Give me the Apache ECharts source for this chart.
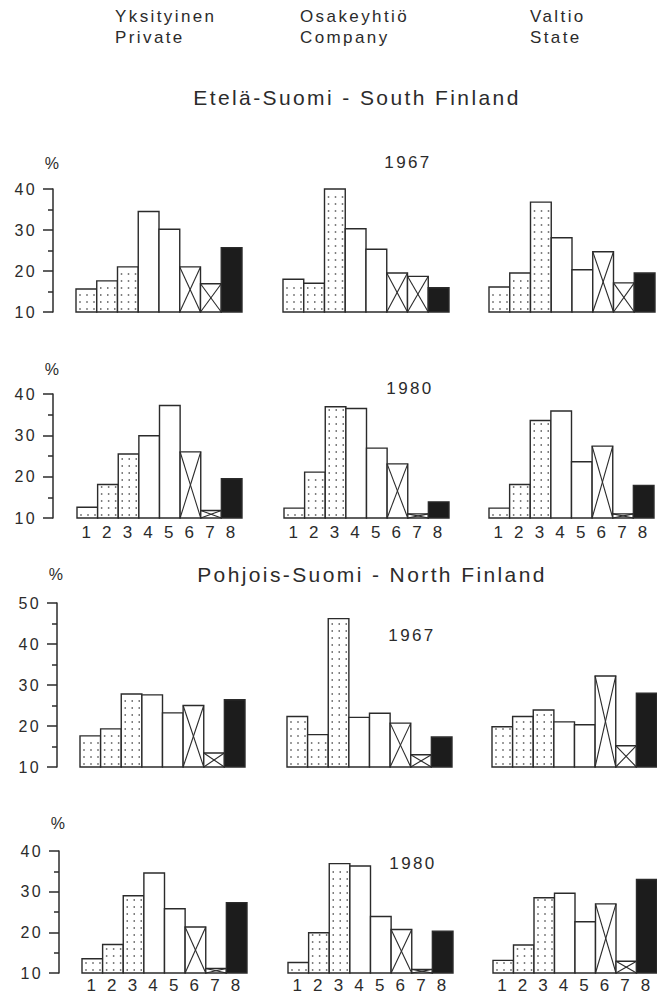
<!DOCTYPE html>
<html><head><meta charset="utf-8">
<script src="https://cdn.jsdelivr.net/npm/echarts@6/dist/echarts.min.js"></script>
<style>
html,body{margin:0;padding:0;background:#fff;}
#chart{width:657px;height:994px;}
#chart svg text{letter-spacing:2.4px;}
</style></head><body><div id="chart"></div>
<script>
// ---------- DATA ----------
const categories = ['1','2','3','4','5','6','7','8'];
const ownerLabels = ['Yksityinen\nPrivate','Osakeyhtiö\nCompany','Valtio\nState'];
const regionTitles = ['Etelä-Suomi - South Finland','Pohjois-Suomi - North Finland'];
const yearLabels = ['1967','1980','1967','1980'];
const yTickLabels = [[10,20,30,40],[10,20,30,40],[10,20,30,40,50],[10,20,30,40]];

const south1967Private = [15.6, 17.6, 21.0, 34.5, 30.2, 21.0, 16.9, 25.7];
const south1967Company = [18.0, 17.0, 40.0, 30.3, 25.3, 19.5, 18.7, 15.9];
const south1967State   = [16.1, 19.5, 36.8, 28.1, 20.3, 24.7, 17.1, 19.5];

const south1980Private = [12.6, 18.1, 25.5, 29.9, 37.2, 26.0, 11.8, 19.5];
const south1980Company = [12.4, 21.1, 36.9, 36.5, 26.9, 23.1, 11.0, 13.9];
const south1980State   = [12.4, 18.1, 33.6, 35.9, 23.6, 27.4, 11.0, 17.9];

const north1967Private = [17.6, 19.3, 27.8, 27.6, 23.2, 25.0, 13.4, 26.4];
const north1967Company = [22.3, 17.9, 46.2, 22.1, 23.1, 20.7, 13.0, 17.3];
const north1967State   = [19.8, 22.3, 23.9, 21.0, 20.3, 32.2, 15.2, 28.0];

const north1980Private = [13.5, 17.0, 29.0, 34.6, 25.8, 21.3, 11.1, 27.3];
const north1980Company = [12.6, 19.9, 36.9, 36.3, 23.9, 20.7, 10.9, 20.3];
const north1980State   = [13.1, 16.9, 28.5, 29.6, 22.6, 27.0, 12.9, 33.0];

const rowsData = [
  [south1967Private, south1967Company, south1967State],
  [south1980Private, south1980Company, south1980State],
  [north1967Private, north1967Company, north1967State],
  [north1980Private, north1980Company, north1980State]
];

// ---------- STYLE / LAYOUT ----------
const barPatterns = ['dots','dots','dots','plain','plain','cross','cross','solid'];
const FONT = '"Liberation Sans", Arial, Helvetica, sans-serif';
const INK = '#2b2b2b';
const rowLayout = [
  {top:189, height:123, axisX:53, lefts:[76,283,489], width:166, nameGap:18, labelMargin:6},
  {top:394, height:124, axisX:53, lefts:[77,284,489], width:165, nameGap:17, labelMargin:6},
  {top:603, height:164, axisX:57, lefts:[80,287,492], width:165, nameGap:21, labelMargin:6},
  {top:851, height:123, axisX:59, lefts:[82,288,493], width:165, nameGap:20, labelMargin:4}
];
const yearPos = [[408,162],[410,388],[412,635],[413,863]];
const ownerX = [115,300,530];

function makeRender(yMin){
  return function(params, api){
    const i = api.value(0), v = api.value(1);
    const pT = api.coord([i, v]), pB = api.coord([i, yMin]);
    const w = api.size([1,0])[0];
    const x0 = pT[0]-w/2, x1 = pT[0]+w/2, yT = pT[1], yB = pB[1];
    const pat = barPatterns[i];
    const ch = [{type:'rect', shape:{x:x0,y:yT,width:w,height:yB-yT},
      style:{fill: pat==='solid' ? '#1c1c1c' : '#fff', stroke: INK, lineWidth:1.4}}];
    if(pat==='dots'){
      for(let y=yB-3; y>yT+2; y-=7){
        for(let x=x0+4; x<x1-2; x+=7){
          ch.push({type:'rect', shape:{x:x-0.75,y:y-0.75,width:1.5,height:1.5}, style:{fill:'#555'}});
        }
      }
    }
    if(pat==='cross'){
      ch.push({type:'line', shape:{x1:x0,y1:yT,x2:x1,y2:yB}, style:{stroke:INK,lineWidth:1.1}});
      ch.push({type:'line', shape:{x1:x0,y1:yB,x2:x1,y2:yT}, style:{stroke:INK,lineWidth:1.1}});
    }
    return {type:'group', children:ch};
  };
}

const grids=[], xAxes=[], yAxes=[], series=[];
rowsData.forEach((row, r)=>{
  const L = rowLayout[r];
  const ticks = yTickLabels[r];
  const yMin = ticks[0], yMax = ticks[ticks.length-1];
  row.forEach((vals, c)=>{
    const k = grids.length;
    grids.push({left:L.lefts[c], top:L.top, width:L.width, height:L.height, containLabel:false});
    xAxes.push({gridIndex:k, type:'category', data:categories, boundaryGap:true,
      axisLine:{show:false}, axisTick:{show:false}, splitLine:{show:false},
      axisLabel:{show: r%2===1, margin:L.labelMargin, fontSize:17, fontFamily:FONT, color:INK}});
    yAxes.push({gridIndex:k, type:'value', min:yMin, max:yMax, interval:10, show:c===0,
      offset: L.lefts[c]-L.axisX,
      name: c===0 ? '%' : '', nameLocation:'end', nameGap:L.nameGap,
      nameTextStyle:{fontSize:16, fontFamily:FONT, color:INK},
      axisLine:{show:true, lineStyle:{color:INK, width:1.5}},
      axisTick:{show:true, length:10, lineStyle:{color:INK, width:1.5}},
      minorTick:{show:true, splitNumber:2, length:5, lineStyle:{color:INK, width:1.5}},
      splitLine:{show:false}, minorSplitLine:{show:false},
      axisLabel:{margin:16, fontSize:16, fontFamily:FONT, color:INK,
        formatter: v => ticks.indexOf(v) >= 0 ? String(v) : ''}});
    series.push({type:'custom', xAxisIndex:k, yAxisIndex:k, clip:false,
      renderItem: makeRender(yMin),
      data: vals.map((v,i)=>[i, v]),
      encode:{x:0, y:1}, silent:true, animation:false});
  });
});

const graphic = [];
ownerLabels.forEach((t,i)=>{
  graphic.push({type:'text', x:ownerX[i], y:6,
    style:{text:t, font:'17px '+FONT, fill:INK, lineHeight:21}});
});
graphic.push({type:'text', x:357, y:97, style:{text:regionTitles[0], font:'21px '+FONT, fill:INK,
  align:'center', verticalAlign:'middle', textAlign:'center', textVerticalAlign:'middle'}});
graphic.push({type:'text', x:372, y:574, style:{text:regionTitles[1], font:'21px '+FONT, fill:INK,
  align:'center', verticalAlign:'middle', textAlign:'center', textVerticalAlign:'middle'}});
yearLabels.forEach((t,i)=>{
  graphic.push({type:'text', x:yearPos[i][0], y:yearPos[i][1], style:{text:t, font:'17px '+FONT, fill:INK,
    align:'center', verticalAlign:'middle', textAlign:'center', textVerticalAlign:'middle'}});
});

const chart = echarts.init(document.getElementById('chart'), null, {renderer:'svg', width:657, height:994});
chart.setOption({
  backgroundColor:'#fff',
  animation:false,
  grid:grids, xAxis:xAxes, yAxis:yAxes, series:series, graphic:graphic
});
</script></body></html>
